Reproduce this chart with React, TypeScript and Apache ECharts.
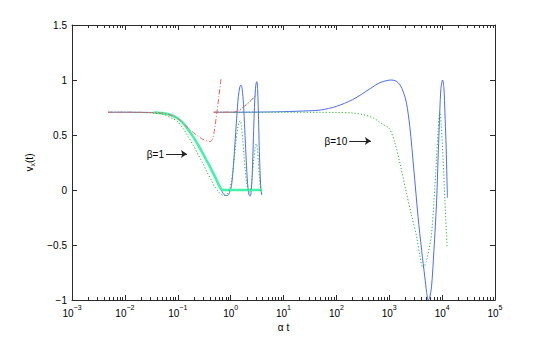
import React, { useEffect, useRef } from "react";
import * as echarts from "echarts";

// ---- axis ticks ----
const xTickExponents = [-3, -2, -1, 0, 1, 2, 3, 4, 5];
const yTickValues = [-1, -0.5, 0, 0.5, 1, 1.5];

// ---- beta = 1 : thick cyan curve ----
const thickX = [0.035, 0.04, 0.05, 0.065, 0.08, 0.1, 0.12, 0.15, 0.18, 0.21, 0.25, 0.3, 0.35, 0.4, 0.46, 0.52, 0.58, 0.64, 0.7, 1, 2, 3, 3.9];
const thickY = [0.705, 0.703, 0.699, 0.69, 0.675, 0.65, 0.62, 0.565, 0.51, 0.46, 0.4, 0.33, 0.27, 0.22, 0.16, 0.11, 0.06, 0.02, 0.0, 0, 0, 0, 0];

// ---- beta = 1 : blue solid ----
const blue1X = [0.0048, 0.01, 0.02, 0.03, 0.04, 0.05, 0.065, 0.08, 0.1, 0.12, 0.15, 0.18, 0.21, 0.25, 0.3, 0.35, 0.4, 0.46, 0.52, 0.58, 0.65, 0.72, 0.8, 0.88, 0.96, 1.04, 1.12, 1.2, 1.3, 1.4, 1.5, 1.57, 1.65, 1.75, 1.85, 1.95, 2.05, 2.15, 2.25, 2.35, 2.45, 2.55, 2.65, 2.75, 2.85, 2.95, 3.05, 3.14, 3.25, 3.35, 3.45, 3.55, 3.65, 3.75, 3.9];
const blue1Y = [0.707, 0.707, 0.706, 0.705, 0.703, 0.699, 0.69, 0.675, 0.65, 0.62, 0.565, 0.51, 0.46, 0.4, 0.33, 0.27, 0.22, 0.16, 0.1, 0.05, 0.01, -0.03, -0.05, -0.05, -0.02, 0.04, 0.2, 0.4, 0.65, 0.85, 0.94, 0.955, 0.92, 0.78, 0.55, 0.32, 0.12, 0.0, -0.05, -0.055, -0.01, 0.12, 0.35, 0.6, 0.8, 0.92, 0.975, 0.985, 0.9, 0.7, 0.45, 0.25, 0.1, 0.0, -0.045];

// ---- beta = 1 : green dotted ----
const green1X = [0.0048, 0.01, 0.02, 0.03, 0.05, 0.08, 0.1, 0.13, 0.16, 0.2, 0.25, 0.3, 0.36, 0.43, 0.5, 0.58, 0.66, 0.75, 0.85, 0.95, 1.05, 1.15, 1.25, 1.35, 1.45, 1.52, 1.6, 1.7, 1.8, 1.9, 2.0, 2.15, 2.3, 2.45, 2.6, 2.75, 2.9, 3.05, 3.2, 3.35, 3.5, 3.7, 3.9];
const green1Y = [0.707, 0.707, 0.705, 0.7, 0.69, 0.65, 0.62, 0.55, 0.48, 0.4, 0.31, 0.24, 0.16, 0.09, 0.03, -0.01, -0.04, -0.05, -0.04, 0.0, 0.1, 0.25, 0.42, 0.55, 0.62, 0.63, 0.58, 0.45, 0.3, 0.17, 0.07, 0.0, -0.02, 0.03, 0.15, 0.28, 0.38, 0.42, 0.38, 0.25, 0.12, 0.0, -0.05];

// ---- beta = 1 : red dash-dot ----
const red1X = [0.0048, 0.01, 0.02, 0.03, 0.05, 0.08, 0.1, 0.13, 0.16, 0.2, 0.25, 0.3, 0.36, 0.41, 0.46, 0.5, 0.55, 0.6, 0.66];
const red1Y = [0.707, 0.707, 0.706, 0.704, 0.699, 0.675, 0.65, 0.6, 0.56, 0.52, 0.485, 0.46, 0.445, 0.44, 0.47, 0.56, 0.707, 0.85, 1.02];

// ---- red dash-dot / green dotted short branch ----
const red2X = [0.48, 0.7, 1.0, 1.2, 1.4, 1.61, 1.85, 2.15, 2.5, 2.8, 3.1];
const red2Y = [0.707, 0.707, 0.708, 0.71, 0.72, 0.74, 0.765, 0.79, 0.82, 0.845, 0.87];
const green1bX = [1.5, 1.61, 1.85, 2.15, 2.5, 2.8, 3.1];
const green1bY = [0.73, 0.74, 0.765, 0.79, 0.82, 0.845, 0.87];

// ---- beta = 10 : blue solid ----
const blue10X = [0.48, 1, 3, 10, 30, 50, 100, 200, 300, 430, 660, 900, 1100, 1350, 1600, 1850, 2120, 2450, 2900, 3500, 4100, 4700, 5100, 5430, 5800, 6300, 7000, 7833, 8400, 8770, 9440, 10200, 10800, 11300, 11800, 12200, 12600];
const blue10Y = [0.707, 0.707, 0.708, 0.712, 0.72, 0.727, 0.76, 0.82, 0.87, 0.92, 0.975, 0.995, 1.0, 0.99, 0.955, 0.89, 0.79, 0.575, 0.2, -0.24, -0.55, -0.79, -0.93, -1.0, -0.98, -0.88, -0.55, -0.12, 0.3, 0.545, 0.91, 1.0, 0.93, 0.7, 0.45, 0.2, -0.07];

// ---- beta = 10 : green dotted ----
const green10X = [0.48, 1, 10, 50, 101, 200, 321, 497, 767, 1000, 1276, 1600, 2122, 2700, 3280, 3800, 4370, 5000, 5850, 6310, 7000, 7833, 8410, 9040, 9600, 10440, 11300, 12440];
const green10Y = [0.707, 0.707, 0.707, 0.706, 0.705, 0.7, 0.685, 0.655, 0.595, 0.56, 0.43, 0.24, -0.03, -0.25, -0.42, -0.6, -0.71, -0.65, -0.5, -0.4, -0.1, 0.29, 0.545, 0.71, 0.6, 0.27, -0.1, -0.53];

// ---- annotations ----
const annoLabels = ["β=1", "β=10"];
const annoStartX = [0.06, 175];
const annoEndX = [0.149, 449];
const annoY = [0.327, 0.445];

const pairs = (xs: number[], ys: number[]) => xs.map((x, i) => [x, ys[i]]);

const AXIS_COLOR = "#2b2b2b";
const FONT = "Liberation Sans, Arial, Helvetica, sans-serif";

export default function App() {
  const ref = useRef<HTMLDivElement>(null);
  useEffect(() => {
    if (!ref.current) return;
    const chart = echarts.init(ref.current, null, { renderer: "svg" });
    const xMin = Math.pow(10, xTickExponents[0]);
    const xMax = Math.pow(10, xTickExponents[xTickExponents.length - 1]);
    const yMin = yTickValues[0];
    const yMax = yTickValues[yTickValues.length - 1];

    const minorTicks: number[][] = [];
    for (let i = 0; i < xTickExponents.length - 1; i++) {
      for (let m = 2; m <= 9; m++) minorTicks.push([m * Math.pow(10, xTickExponents[i]), 0]);
    }

    const lineBase = { type: "line", showSymbol: false, symbol: "none", silent: true, animation: false };

    const supText = (e: number) => (e < 0 ? "−" + -e : String(e));

    const option: any = {
      animation: false,
      backgroundColor: "#ffffff",
      textStyle: { fontFamily: FONT },
      grid: { left: 72, right: 53, top: 25, bottom: 39, containLabel: false },
      xAxis: [
        {
          type: "log",
          logBase: 10,
          min: xMin,
          max: xMax,
          interval: 1,
          position: "bottom",
          name: "α t",
          nameLocation: "middle",
          nameGap: 17,
          nameTextStyle: { fontSize: 10, color: "#000", fontFamily: FONT },
          axisLine: { show: true, onZero: false, lineStyle: { color: AXIS_COLOR, width: 1 } },
          axisTick: { show: true, inside: true, length: 5, lineStyle: { color: AXIS_COLOR } },
          splitLine: { show: false },
          axisLabel: {
            margin: 4,
            formatter: (v: number) => {
              const e = Math.round(Math.log10(v));
              return "{b|10}{s|" + supText(e) + "}";
            },
            rich: {
              b: { fontSize: 10, color: "#000", fontFamily: FONT, lineHeight: 14, verticalAlign: "bottom" },
              s: { fontSize: 7, color: "#000", fontFamily: FONT, verticalAlign: "top", lineHeight: 8 },
            },
          },
        },
        {
          type: "log",
          logBase: 10,
          min: xMin,
          max: xMax,
          interval: 1,
          position: "top",
          axisLine: { show: true, onZero: false, lineStyle: { color: AXIS_COLOR, width: 1 } },
          axisTick: { show: true, inside: true, length: 5, lineStyle: { color: AXIS_COLOR } },
          axisLabel: { show: false },
          splitLine: { show: false },
        },
      ],
      yAxis: [
        {
          type: "value",
          min: yMin,
          max: yMax,
          interval: 0.5,
          position: "left",
          name: "{a|v}{sub|x}{a|(t)}",
          nameLocation: "middle",
          nameGap: 26,
          nameRotate: 90,
          nameTextStyle: {
            rich: {
              a: { fontSize: 10, color: "#000", fontFamily: FONT, lineHeight: 14 },
              sub: { fontSize: 7, color: "#000", fontFamily: FONT, verticalAlign: "bottom", lineHeight: 14 },
            },
          },
          axisLine: { show: true, onZero: false, lineStyle: { color: AXIS_COLOR, width: 1 } },
          axisTick: { show: true, inside: true, length: 5, lineStyle: { color: AXIS_COLOR } },
          splitLine: { show: false },
          axisLabel: {
            margin: 5,
            fontSize: 10,
            color: "#000",
            fontFamily: FONT,
            formatter: (v: number) => (v < 0 ? "−" + Math.abs(v) : String(v)),
          },
        },
        {
          type: "value",
          min: yMin,
          max: yMax,
          interval: 0.5,
          position: "right",
          axisLine: { show: true, onZero: false, lineStyle: { color: AXIS_COLOR, width: 1 } },
          axisTick: { show: true, inside: true, length: 5, lineStyle: { color: AXIS_COLOR } },
          axisLabel: { show: false },
          splitLine: { show: false },
        },
      ],
      series: [
        {
          type: "custom",
          xAxisIndex: 0,
          yAxisIndex: 0,
          silent: true,
          data: minorTicks,
          encode: { x: 0, y: 1 },
          clip: false,
          renderItem: (params: any, api: any) => {
            const x = api.value(0);
            const pb = api.coord([x, yMin]);
            const pt = api.coord([x, yMax]);
            const px = Math.round(pb[0]) + 0.5;
            return {
              type: "group",
              children: [
                { type: "line", shape: { x1: px, y1: pb[1], x2: px, y2: pb[1] - 3 }, style: { stroke: AXIS_COLOR, lineWidth: 1 } },
                { type: "line", shape: { x1: px, y1: pt[1], x2: px, y2: pt[1] + 3 }, style: { stroke: AXIS_COLOR, lineWidth: 1 } },
              ],
            };
          },
        },
        { ...lineBase, name: "blue1", data: pairs(blue1X, blue1Y), smooth: 0.3, lineStyle: { color: "#4d6df2", width: 1 }, z: 2 },
        { ...lineBase, name: "blue10", data: pairs(blue10X, blue10Y), smooth: 0.3, lineStyle: { color: "#4d6df2", width: 1 }, z: 2 },
        { ...lineBase, name: "thick", data: pairs(thickX, thickY), smooth: 0.2, lineStyle: { color: "#44f2aa", width: 2.6 }, z: 3 },
        { ...lineBase, name: "green1", data: pairs(green1X, green1Y), smooth: 0.3, lineStyle: { color: "#2fb52f", width: 1, type: [1.2, 2] }, z: 4 },
        { ...lineBase, name: "green1b", data: pairs(green1bX, green1bY), smooth: 0.3, lineStyle: { color: "#2fb52f", width: 1, type: [1.2, 2] }, z: 4 },
        { ...lineBase, name: "green10", data: pairs(green10X, green10Y), smooth: 0.3, lineStyle: { color: "#2fb52f", width: 1, type: [1.2, 2] }, z: 4 },
        { ...lineBase, name: "red1", data: pairs(red1X, red1Y), smooth: 0.3, lineStyle: { color: "#f06464", width: 1, type: [5, 2, 1, 2] }, z: 5 },
        { ...lineBase, name: "red2", data: pairs(red2X, red2Y), smooth: 0.3, lineStyle: { color: "#f06464", width: 1, type: [5, 2, 1, 2] }, z: 5 },
        {
          type: "line",
          data: [],
          silent: true,
          markLine: {
            silent: true,
            animation: false,
            symbol: ["none", "arrow"],
            symbolSize: 6,
            lineStyle: { color: "#222", width: 1, type: "solid" },
            label: {
              show: true,
              position: "start",
              distance: 2,
              fontSize: 10,
              color: "#000",
              fontFamily: FONT,
              formatter: (p: any) => p.name,
            },
            data: annoLabels.map((lab, i) => [
              { name: lab, coord: [annoStartX[i], annoY[i]] },
              { coord: [annoEndX[i], annoY[i]] },
            ]),
          },
        },
      ],
    };
    chart.setOption(option);
    return () => chart.dispose();
  }, []);
  return <div ref={ref} style={{ width: 548, height: 339, position: "absolute", left: 0, top: 0 }} />;
}
